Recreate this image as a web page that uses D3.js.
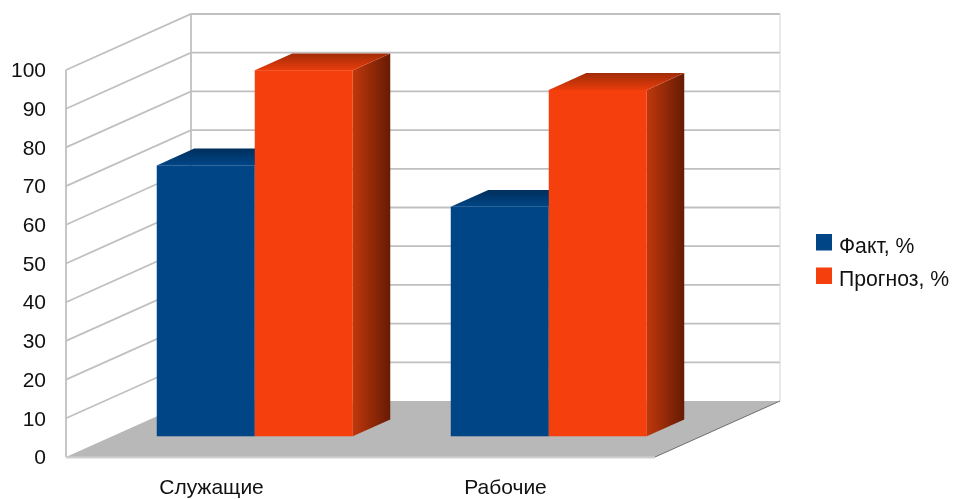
<!DOCTYPE html>
<html>
<head>
<meta charset="utf-8">
<script src="https://cdn.jsdelivr.net/npm/d3@7"></script>
<style>
  html, body { margin: 0; padding: 0; background: #fff; }
  svg { filter: blur(0.4px); }
  text { font-family: "Liberation Sans", Arial, sans-serif; fill: #111; }
</style>
</head>
<body>
<div id="chart"></div>
<script>
var categories = ["Служащие", "Рабочие"];
var seriesNames = ["Факт, %", "Прогноз, %"];
var factValues = [70, 59.3];
var prognozValues = [94.6, 89.5];
var yTicks = [0, 10, 20, 30, 40, 50, 60, 70, 80, 90, 100];

var faceColors = ["#004586", "#f5400d"];
var topColors = [["#002f5c", "#004586"], ["#a02c08", "#e83c0b"]];
var sideColors = [["#004586", "#002a52"], ["#c0380c", "#661b04"]];

var width = 953, height = 499;

var svg = d3.select("#chart").append("svg")
  .attr("width", width)
  .attr("height", height)
  .style("display", "block");

var x = d3.scaleBand().domain(categories).range([66, 654]);
var xSeries = d3.scaleBand().domain(d3.range(seriesNames.length))
  .range([-4.5, x.bandwidth() - 4.5]).paddingOuter(0.5);
var y = d3.scaleLinear().domain([0, 100]).range([457, 70]);

// depth goes from 0 (front) to 1 (back wall)
var depthX = 125, depthY = -56;
function px(xv, z) { return xv + z * depthX; }
function py(v, z) { return y(v) + z * depthY; }
function pt(xv, v, z) { return [px(xv, z), py(v, z)]; }
function poly(points) { return points.map(function(p) { return p.join(","); }).join(" "); }

var defs = svg.append("defs");
seriesNames.forEach(function(d, i) {
  var top = defs.append("linearGradient").attr("id", "top" + i)
    .attr("x1", 0).attr("y1", 0).attr("x2", 0).attr("y2", 1);
  top.append("stop").attr("offset", "0%").attr("stop-color", topColors[i][0]);
  top.append("stop").attr("offset", "100%").attr("stop-color", topColors[i][1]);
  var side = defs.append("linearGradient").attr("id", "side" + i)
    .attr("x1", 0).attr("y1", 0).attr("x2", 1).attr("y2", 0);
  side.append("stop").attr("offset", "0%").attr("stop-color", sideColors[i][0]);
  side.append("stop").attr("offset", "100%").attr("stop-color", sideColors[i][1]);
});

var gridColor = "#c0c0c0";
var xMin = 66, xMax = 655;

// floor
svg.append("polygon")
  .attr("points", poly([pt(xMin, 0, 0), pt(xMin, 0, 1), pt(xMax, 0, 1), pt(xMax, 0, 0)]))
  .attr("fill", "#b8b8b8");

// grid on the left and back walls
var grid = svg.append("g").attr("fill", "none").attr("stroke", gridColor).attr("stroke-width", 1.8);
yTicks.forEach(function(t) {
  grid.append("polyline")
    .attr("points", poly([pt(xMin, t, 0), pt(xMin, t, 1), pt(xMax, t, 1)]))
    .attr("stroke", t === 0 ? "none" : gridColor);
});
grid.append("line").attr("x1", px(xMin, 0)).attr("y1", py(0, 0)).attr("x2", px(xMin, 0)).attr("y2", py(100, 0));
grid.append("line").attr("x1", px(xMin, 1)).attr("y1", py(0, 1)).attr("x2", px(xMin, 1)).attr("y2", py(100, 1));
grid.append("line").attr("x1", px(xMax, 1)).attr("y1", py(0, 1)).attr("x2", px(xMax, 1)).attr("y2", py(100, 1))
  .attr("stroke", "#d4d4d4").attr("stroke-width", 1);

// floor edges
svg.append("line")
  .attr("x1", px(xMin, 0)).attr("y1", py(0, 0) + 0.5).attr("x2", px(xMax, 0)).attr("y2", py(0, 0) + 0.5)
  .attr("stroke", "#d0d0d0").attr("stroke-width", 2);
svg.append("line")
  .attr("x1", px(xMax, 0)).attr("y1", py(0, 0)).attr("x2", px(xMax, 1)).attr("y2", py(0, 1))
  .attr("stroke", "#6e6e6e").attr("stroke-width", 1);

// bars
var z0 = 0.37, z1 = 0.67;
var bars = [factValues, prognozValues];
categories.forEach(function(cat, c) {
  var g = svg.append("g");
  bars.forEach(function(values, s) {
    var v = values[c];
    var x0 = x(cat) + xSeries(s), x1 = x0 + xSeries.bandwidth();
    g.append("polygon")
      .attr("points", poly([pt(x1, 0, z0), pt(x1, 0, z1), pt(x1, v, z1), pt(x1, v, z0)]))
      .attr("fill", "url(#side" + s + ")");
    g.append("polygon")
      .attr("points", poly([pt(x0, v, z0), pt(x0, v, z1), pt(x1, v, z1), pt(x1, v, z0)]))
      .attr("fill", "url(#top" + s + ")");
    g.append("rect")
      .attr("x", px(x0, z0))
      .attr("y", py(v, z0))
      .attr("width", x1 - x0)
      .attr("height", y(0) - y(v))
      .attr("fill", faceColors[s]);
  });
});

// axes
var yAxis = svg.append("g")
  .attr("transform", "translate(66,0)")
  .call(d3.axisLeft(y).tickValues(yTicks).tickSize(0).tickPadding(20));
yAxis.select(".domain").remove();
yAxis.selectAll("text").attr("font-size", 21).style("font-family", null);

var xAxis = svg.append("g")
  .attr("transform", "translate(-1.5,474)")
  .call(d3.axisBottom(x).tickSize(0).tickPadding(5));
xAxis.select(".domain").remove();
xAxis.selectAll("text").attr("font-size", 21).style("font-family", null);

// legend
var legend = svg.append("g").attr("transform", "translate(816,234)");
seriesNames.forEach(function(name, i) {
  var row = legend.append("g").attr("transform", "translate(0," + (i * 33.5) + ")");
  row.append("rect").attr("width", 16).attr("height", 16.5).attr("fill", faceColors[i]);
  row.append("text").attr("x", 23).attr("y", 18.5).attr("font-size", 21.2).text(name);
});
</script>
</body>
</html>
